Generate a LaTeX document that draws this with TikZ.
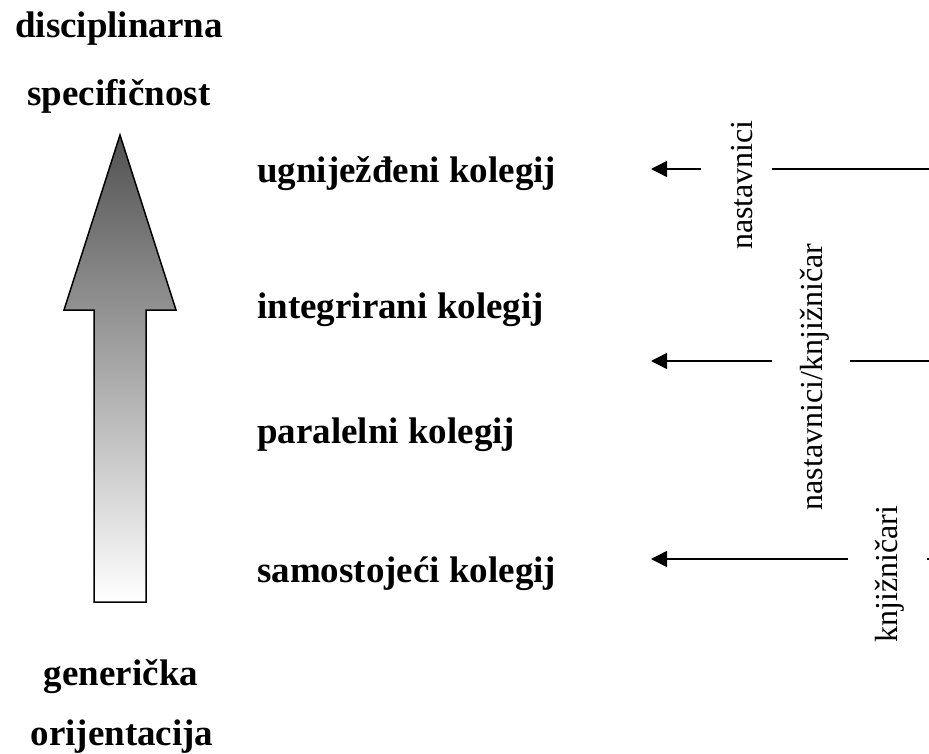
\documentclass[tikz,border=0pt]{standalone}
\usepackage{fontspec}
\setmainfont{Liberation Serif}
\usetikzlibrary{arrows.meta}

\begin{document}
\begin{tikzpicture}[x=1pt, y=-1pt,
    side/.style={font=\fontsize{37}{44}\selectfont\bfseries, anchor=base, inner sep=0pt},
    lvl/.style={font=\fontsize{37}{44}\selectfont\bfseries, anchor=base west, inner sep=0pt},
    role/.style={font=\fontsize{32}{38}\selectfont, rotate=90, anchor=base, inner sep=0pt},
    link/.style={line width=1.5pt},
    arr/.style={link, -{Triangle[length=16pt, width=16pt]}}]
  \useasboundingbox (0,0) rectangle (929,754);

  % Big shaded arrow
  \shade[top color=black!68, bottom color=white, draw=black, line width=1.5pt]
    (120,135) -- (176,310) -- (146,310) -- (146,602) -- (94,602) -- (94,310) -- (64,310) -- cycle;

  % Ends of the scale
  \node[side] (disc) at (119,38) {disciplinarna};
  \node[side] (spec) at (119,106) {specifičnost};
  \node[side] (gene) at (121,685) {generička};
  \node[side] (orij) at (122,745) {orijentacija};

  % Course models
  \node[lvl] (ugn) at (257,183) {ugniježđeni kolegij};
  \node[lvl] (int) at (257,318) {integrirani kolegij};
  \node[lvl] (par) at (257,443) {paralelni kolegij};
  \node[lvl] (sam) at (257,582) {samostojeći kolegij};

  % Who teaches
  \node[role] (nast) at (752,185) {nastavnici};
  \node[role] (nk)   at (822,377) {nastavnici/knjižničar};
  \node[role] (knj)  at (897,574) {knjižničari};

  % Arrow ends
  \coordinate (e1) at (929,169);
  \coordinate (e2) at (929,361);
  \coordinate (e3) at (929,559);
  \coordinate (t1) at (651,169);
  \coordinate (t2) at (651,361);
  \coordinate (t3) at (651,559);

  % Arrows, broken by the labels
  \draw[link] (e1) -- ([xshift=20pt]nast.base |- e1);
  \draw[arr] ([xshift=-51pt]nast.base |- e1) -- (t1);
  \draw[link] (e2) -- ([xshift=28pt]nk.base |- e2);
  \draw[arr] ([xshift=-50pt]nk.base |- e2) -- (t2);
  \draw[link] (e3) -- ([xshift=30pt]knj.base |- e3);
  \draw[arr] ([xshift=-49pt]knj.base |- e3) -- (t3);
\end{tikzpicture}
\end{document}
